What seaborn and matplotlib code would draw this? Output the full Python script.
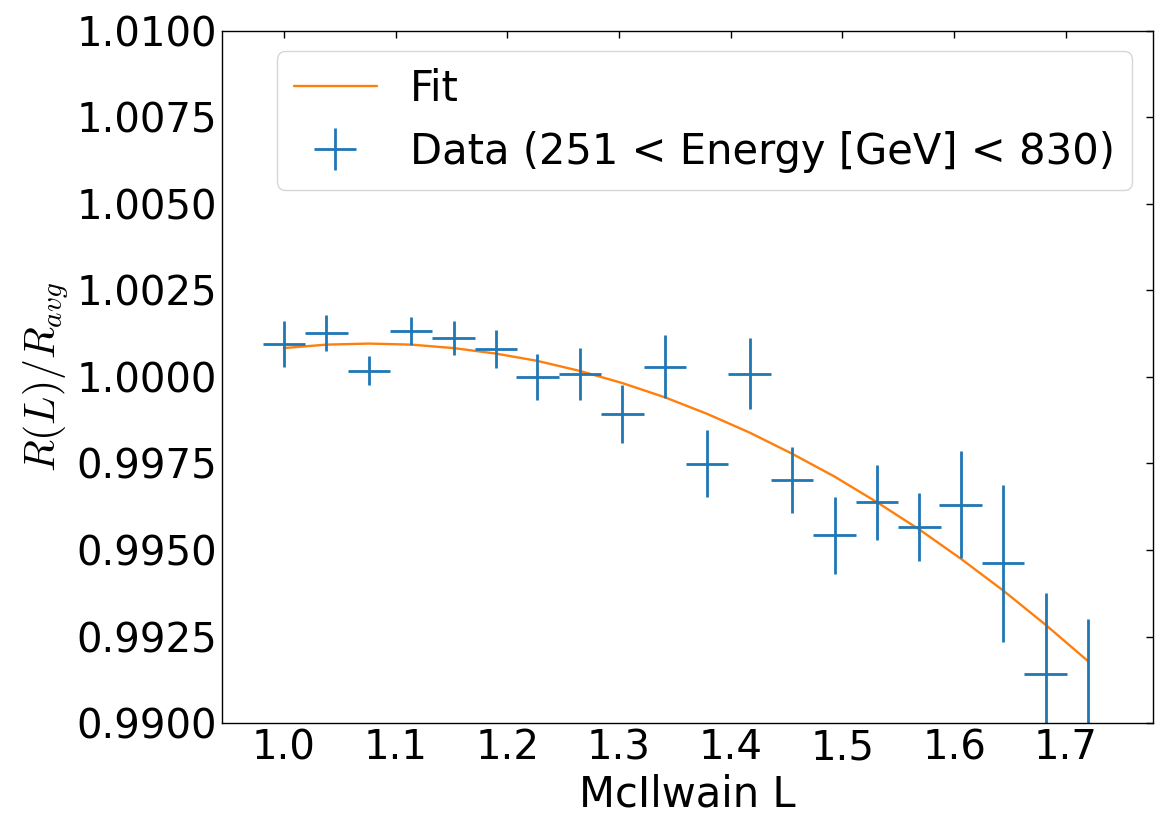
import numpy as np
import seaborn as sns
import matplotlib
matplotlib.use('Agg')
import matplotlib.pyplot as plt
from matplotlib.ticker import FormatStrFormatter, MultipleLocator

# McIlwain L bin centres and half widths
L_values = [1.000, 1.038, 1.076, 1.114, 1.152, 1.190, 1.227, 1.265, 1.303, 1.341,
            1.379, 1.417, 1.455, 1.493, 1.531, 1.569, 1.606, 1.644, 1.682, 1.720]
L_err = 0.019

# measured ratio and its error
ratio = [1.00094, 1.00126, 1.00018, 1.00133, 1.00112, 1.00081, 0.99999, 1.00008, 0.99893, 1.00029,
         0.99749, 1.00009, 0.99702, 0.99542, 0.99638, 0.99566, 0.99631, 0.99462, 0.99142, 0.98880]
ratio_err = [0.00066, 0.00052, 0.00042, 0.00041, 0.00050, 0.00055, 0.00067, 0.00075, 0.00083, 0.00091,
             0.00097, 0.00103, 0.00096, 0.00110, 0.00108, 0.00099, 0.00154, 0.00227, 0.00235, 0.00420]

# fit curve read at the same L values
fit = [1.00083, 1.00093, 1.00096, 1.00093, 1.00083, 1.00067, 1.00046, 1.00017, 0.99982, 0.99941,
       0.99893, 0.99839, 0.99778, 0.99712, 0.99638, 0.99559, 0.99475, 0.99383, 0.99284, 0.99179]

sns.set_style('white')
plt.rcParams['font.family'] = ['DejaVu Sans']
plt.rcParams['mathtext.fontset'] = 'cm'
plt.rcParams['text.color'] = 'black'
plt.rcParams['axes.labelcolor'] = 'black'
plt.rcParams['xtick.color'] = 'black'
plt.rcParams['ytick.color'] = 'black'

fig = plt.figure(figsize=(11.68, 8.36), dpi=100)
ax = fig.add_axes([0.190, 0.135, 0.797, 0.8285])

sns.lineplot(x=L_values, y=fit, ax=ax, color='#ff7f0e', linewidth=1.7, label='Fit')
ax.errorbar(L_values, ratio, xerr=L_err, yerr=ratio_err, fmt='none', ecolor='#1f77b4',
            elinewidth=2.0, label='Data (251 < Energy [GeV] < 830)')

ax.set_ylim(0.99, 1.01)
ax.set_xlim(0.9445, 1.778)
ax.yaxis.set_major_locator(MultipleLocator(0.0025))
ax.yaxis.set_major_formatter(FormatStrFormatter('%.4f'))
ax.xaxis.set_major_locator(MultipleLocator(0.1))
ax.xaxis.set_major_formatter(FormatStrFormatter('%.1f'))

for s in ax.spines.values():
    s.set_color('black')
    s.set_linewidth(1.0)
ax.tick_params(direction='in', top=True, right=True, length=5, width=1, labelsize=29,
               colors='black')

ax.set_xlabel('McIlwain L', fontsize=30)
ax.set_ylabel(r'$R(L)/R_{avg}$', fontsize=30)

ax.legend(loc='upper right', fontsize=30, frameon=True, handlelength=2.0)

fig.savefig('out.png', dpi=100)
